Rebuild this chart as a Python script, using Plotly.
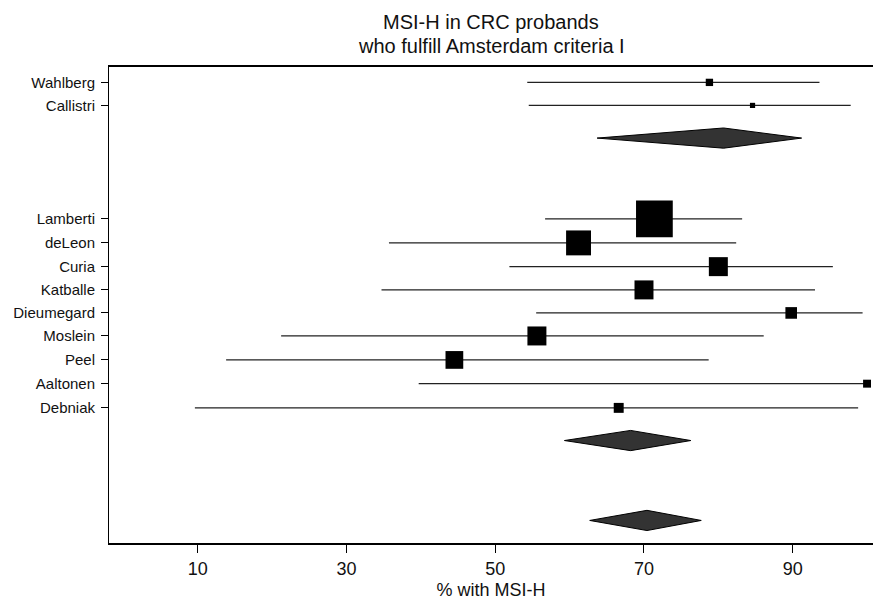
import plotly.graph_objects as go

# ---- data ----
group1_names = ["Wahlberg", "Callistri"]
group1_est = [78.8, 84.6]
group1_lo = [54.3, 54.5]
group1_hi = [93.6, 97.8]
group1_weight = [6, 3]
group1_rows = [1.0, 1.98]

group2_names = ["Lamberti", "deLeon", "Curia", "Katballe", "Dieumegard",
                "Moslein", "Peel", "Aaltonen", "Debniak"]
group2_est = [71.4, 61.2, 80.0, 70.0, 89.8, 55.6, 44.5, 100.0, 66.6]
group2_lo = [56.7, 35.7, 51.9, 34.7, 55.5, 21.2, 13.8, 39.7, 9.6]
group2_hi = [83.2, 82.4, 95.4, 93.0, 99.4, 86.1, 78.7, 100.0, 98.8]
group2_weight = [150, 69, 40, 40, 15, 40, 35, 7, 11]
group2_rows = [6.81, 7.83, 8.84, 9.83, 10.81, 11.79, 12.81, 13.82, 14.85]

pooled_est = [80.7, 68.2, 70.4]
pooled_lo = [63.7, 59.3, 62.7]
pooled_hi = [91.2, 76.3, 77.7]
pooled_rows = [3.37, 16.24, 19.64]

x_ticks = [10, 30, 50, 70, 90]
x_title = "% with MSI-H"
title_lines = ["MSI-H in CRC probands", "who fulfill Amsterdam criteria I"]

# ---- build ----
names = group1_names + group2_names
est = group1_est + group2_est
lo = group1_lo + group2_lo
hi = group1_hi + group2_hi
weight = group1_weight + group2_weight
rows = group1_rows + group2_rows

fig = go.Figure()

lx, ly = [], []
for a, b, r in zip(lo, hi, rows):
    lx += [a, b, None]
    ly += [r, r, None]
fig.add_trace(go.Scatter(x=lx, y=ly, mode="lines",
                         line=dict(color="#222222", width=1.3),
                         hoverinfo="skip", showlegend=False))

sizes = [3.0 * w ** 0.5 for w in weight]
fig.add_trace(go.Scatter(x=est, y=rows, mode="markers",
                         marker=dict(symbol="square", size=sizes, color="black",
                                     opacity=1, line=dict(width=0)),
                         text=names, showlegend=False))

h = 0.43
for e, a, b, r in zip(pooled_est, pooled_lo, pooled_hi, pooled_rows):
    fig.add_trace(go.Scatter(x=[a, e, b, e, a], y=[r, r - h, r, r + h, r],
                             mode="lines", fill="toself", fillcolor="#333333",
                             line=dict(color="black", width=1),
                             hoverinfo="skip", showlegend=False))

title_font = dict(family="Liberation Sans, Arial, sans-serif", size=20, color="#111111")
fig.update_layout(
    width=873, height=600,
    margin=dict(l=109, r=0, t=67, b=57),
    plot_bgcolor="white", paper_bgcolor="white",
    font=dict(family="Liberation Sans, Arial, sans-serif", color="black"),
    annotations=[
        dict(text=title_lines[0], x=0.5, xref="paper", y=1.0935, yref="paper",
             showarrow=False, xanchor="center", yanchor="middle", font=title_font),
        dict(text=title_lines[1], x=0.5, xref="paper", y=1.045, yref="paper",
             showarrow=False, xanchor="center", yanchor="middle", font=title_font),
    ],
)

fig.update_xaxes(
    range=[-1.95, 100.8], tickvals=x_ticks, ticktext=[str(t) for t in x_ticks],
    showgrid=False, zeroline=False,
    showline=True, linecolor="black", linewidth=2, mirror=True,
    ticks="outside", ticklen=8, tickwidth=1, tickcolor="black",
    tickfont=dict(family="Liberation Sans, Arial, sans-serif", size=18, color="#111111"),
    title=dict(text=x_title, standoff=6,
               font=dict(family="Liberation Sans, Arial, sans-serif", size=18, color="#111111")),
)
fig.update_yaxes(
    range=[20.6, 0.345], tickvals=rows, ticktext=names,
    showgrid=False, zeroline=False,
    showline=True, linecolor="black", linewidth=1,
    ticks="outside", ticklen=7, tickwidth=1, tickcolor="black",
    ticklabelstandoff=3,
    tickfont=dict(family="Liberation Sans, Arial, sans-serif", size=15, color="#111111"),
)

fig.write_html("out.html")
